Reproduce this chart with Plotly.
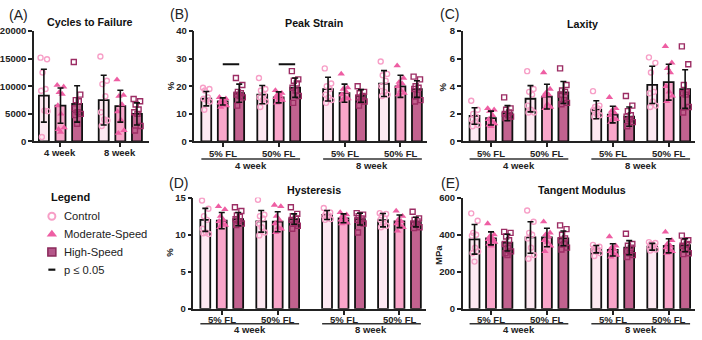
import plotly.graph_objects as go

W, H = 702, 340

# ---------------- data ----------------
series = ["Control", "Moderate-Speed", "High-Speed"]
timepoints = ["4 week", "8 week"]
loads = ["5% FL", "50% FL"]

# (A) Cycles to failure: [series][timepoint]
cyc_mean = [[8300, 7500], [6500, 6400], [6800, 5000]]
cyc_sd = [[4800, 4500], [3200, 2900], [3300, 2000]]
cyc_pts = [
    [[15200, 14900, 12500, 9500, 9200, 5600, 5500, 800],
     [15400, 11000, 10400, 8200, 5300, 4000, 3800, 2800]],
    [[10200, 9900, 8900, 8600, 6500, 5000, 2500, 2200, 1700],
     [11200, 8400, 8200, 6700, 5400, 3900, 2000, 1500]],
    [[14400, 8500, 7500, 7300, 6000, 5300, 5000, 4800, 3200],
     [7700, 7300, 6700, 5800, 5300, 5000, 2800, 2000]],
]

# Groups for B-E: 4wk-5%, 4wk-50%, 8wk-5%, 8wk-50% ; [series][group]
peak_mean = [[15.5, 17.0, 19.0, 21.0], [14.5, 16.0, 17.5, 20.0], [17.5, 19.5, 16.5, 19.0]]
peak_sd = [[2.6, 3.3, 4.3, 4.7], [1.3, 2.0, 3.3, 4.0], [3.3, 3.5, 2.3, 3.0]]
peak_pts = [
    [[19.5, 19.0, 18.5, 16.0, 15.5, 15.0, 14.5, 11.5],
     [23.0, 19.0, 18.5, 17.0, 16.0, 15.0, 14.5, 12.5],
     [26.5, 21.0, 20.0, 19.0, 17.0, 16.0, 15.0, 14.0],
     [29.0, 24.5, 24.0, 22.0, 20.0, 18.0, 17.0, 16.5]],
    [[16.0, 15.5, 15.0, 14.5, 14.0, 13.5, 13.0, 12.5],
     [18.5, 17.5, 17.0, 16.5, 16.0, 15.5, 15.0, 14.0],
     [24.5, 19.5, 19.0, 18.0, 17.0, 16.0, 15.5, 15.0],
     [27.5, 23.0, 21.5, 21.0, 20.0, 18.5, 17.5, 17.0]],
    [[23.0, 20.5, 18.0, 17.5, 17.0, 16.5, 16.0, 13.0],
     [25.5, 22.5, 22.0, 21.0, 19.5, 18.5, 16.5, 14.0],
     [20.0, 18.0, 17.5, 16.5, 16.0, 15.0, 14.5, 13.0],
     [23.5, 22.5, 20.0, 19.5, 19.0, 17.0, 15.0, 14.5]],
]

lax_mean = [[1.85, 3.1, 2.3, 4.1], [1.7, 3.25, 1.95, 4.3], [2.05, 3.55, 1.8, 3.8]]
lax_sd = [[0.6, 0.95, 0.65, 1.35], [0.5, 0.9, 0.6, 1.3], [0.55, 0.8, 0.7, 1.4]]
lax_pts = [
    [[2.95, 2.3, 2.0, 1.8, 1.6, 1.4, 1.2, 1.1],
     [5.1, 3.8, 3.6, 3.4, 2.6, 2.3, 2.1, 2.1],
     [3.65, 2.6, 2.5, 2.4, 2.3, 2.0, 1.9, 1.8],
     [6.1, 5.7, 5.0, 3.6, 3.5, 2.9, 2.6, 2.5]],
    [[2.4, 2.3, 2.2, 1.9, 1.6, 1.5, 1.3, 1.2, 1.1],
     [5.0, 3.8, 3.5, 3.4, 3.3, 2.7, 2.5, 2.4],
     [3.2, 2.4, 2.2, 2.1, 1.9, 1.7, 1.6, 1.4],
     [6.9, 5.7, 5.3, 5.0, 4.0, 3.6, 3.3, 2.9]],
    [[3.2, 2.4, 2.3, 2.1, 2.0, 1.9, 1.8, 1.7],
     [5.3, 4.1, 3.7, 3.6, 3.4, 3.0, 2.8, 2.7],
     [3.3, 2.6, 2.2, 1.9, 1.8, 1.6, 1.4, 1.1],
     [6.9, 5.6, 4.1, 3.6, 3.5, 3.4, 2.5, 2.1]],
]

hys_mean = [[12.0, 11.8, 12.65, 11.95], [11.9, 11.75, 12.2, 11.8], [12.1, 12.1, 12.1, 11.7]]
hys_sd = [[1.55, 1.45, 0.6, 0.9], [1.1, 1.35, 0.6, 0.85], [0.9, 0.7, 0.8, 0.65]]
hys_pts = [
    [[14.6, 13.5, 12.5, 12.0, 10.8, 10.3, 10.1, 10.2],
     [14.7, 12.7, 12.5, 12.2, 11.5, 11.0, 10.3, 9.9],
     [13.6, 13.0, 12.8, 12.6, 12.5, 12.3, 12.1, 12.0],
     [12.9, 12.8, 12.6, 12.2, 12.0, 11.5, 11.2, 11.0]],
    [[13.8, 13.4, 12.5, 12.0, 11.8, 11.5, 11.3, 11.0],
     [14.0, 13.8, 12.5, 12.0, 11.5, 11.0, 10.8, 10.3],
     [13.0, 12.7, 12.5, 12.2, 12.0, 11.8, 11.6, 11.5],
     [13.2, 12.5, 12.0, 11.8, 11.5, 11.3, 11.0, 10.5]],
    [[13.7, 13.2, 12.6, 12.4, 12.1, 11.8, 11.5, 11.3],
     [13.7, 12.8, 12.5, 12.2, 12.0, 11.5, 11.2, 10.8],
     [12.9, 12.7, 12.5, 12.2, 12.0, 11.8, 11.5, 10.3],
     [13.1, 12.2, 12.0, 11.8, 11.5, 11.3, 11.0, 10.9]],
]

tan_mean = [[375, 385, 322, 335], [380, 385, 318, 340], [357, 380, 330, 343]]
tan_sd = [[80, 85, 20, 18], [35, 50, 33, 38], [45, 40, 38, 35]]
tan_pts = [
    [[515, 475, 410, 400, 395, 330, 310, 300, 255],
     [530, 470, 410, 400, 380, 330, 290, 270],
     [345, 335, 330, 320, 315, 310, 300, 285],
     [360, 355, 350, 340, 330, 325, 320, 315]],
    [[460, 400, 390, 380, 375, 370, 360, 350, 340],
     [470, 410, 400, 390, 370, 360, 340, 310],
     [390, 340, 330, 320, 310, 300, 290, 280],
     [415, 370, 350, 340, 330, 320, 310, 300]],
    [[415, 410, 390, 370, 350, 330, 310, 300, 290],
     [450, 430, 400, 380, 370, 350, 330, 320],
     [405, 350, 340, 330, 310, 300, 290, 280],
     [395, 370, 360, 350, 340, 320, 300, 295]],
]

# significant comparisons in Peak Strain: (group index, series a, series b, y)
peak_sig = [(0, 1, 2, 28.0), (1, 1, 2, 28.0)]

# ---------------- style ----------------
FONT = "Liberation Sans, Arial, sans-serif"
bar_fill = ["#fde9f2", "#f9a6ca", "#c2628f"]
pt_color = ["#f79fc7", "#ee5ea3", "#9c2d64"]
pt_symbol = ["circle-open", "triangle-up", "square-open"]
jit = [-0.2, 0.19, -0.08, 0.1, -0.16, 0.03, 0.22, -0.12, 0.0]


def px(x):
    return x / W


def py(y):
    return 1 - y / H


fig = go.Figure()

starts_A = [0.0, 3.6]
starts_B = [0.0, 3.4, 7.4, 10.8]


def add_panel(k, starts, mean, sd, pts):
    xa = "x" if k == 1 else f"x{k}"
    ya = "y" if k == 1 else f"y{k}"
    for s in range(3):
        xs = [g + s for g in starts]
        fig.add_trace(go.Bar(
            x=xs, y=mean[s], width=0.6, xaxis=xa, yaxis=ya,
            marker=dict(color=bar_fill[s], line=dict(color="#111", width=1.8)),
            showlegend=False, hoverinfo="skip"))
    for s in range(3):
        px_, py_ = [], []
        for gi, g in enumerate(starts):
            for j, v in enumerate(pts[s][gi]):
                px_.append(g + s + jit[j % len(jit)])
                py_.append(v)
        if pt_symbol[s] == "triangle-up":
            mk = dict(symbol="triangle-up", size=6.5, color=pt_color[s])
        else:
            mk = dict(symbol=pt_symbol[s], size=5, color=pt_color[s],
                      line=dict(width=1.4, color=pt_color[s]))
        fig.add_trace(go.Scatter(
            x=px_, y=py_, mode="markers", marker=mk, xaxis=xa, yaxis=ya,
            showlegend=False, hoverinfo="skip"))
    for s in range(3):
        xs = [g + s for g in starts]
        fig.add_trace(go.Scatter(
            x=xs, y=mean[s], mode="markers", xaxis=xa, yaxis=ya,
            marker=dict(size=1, color="rgba(0,0,0,0)"),
            error_y=dict(type="data", array=sd[s], color="#111",
                         thickness=1.6, width=3),
            showlegend=False, hoverinfo="skip"))


add_panel(1, starts_A, cyc_mean, cyc_sd, cyc_pts)
add_panel(2, starts_B, peak_mean, peak_sd, peak_pts)
add_panel(3, starts_B, lax_mean, lax_sd, lax_pts)
add_panel(4, starts_B, hys_mean, hys_sd, hys_pts)
add_panel(5, starts_B, tan_mean, tan_sd, tan_pts)

tickfont = dict(family=FONT, size=9.5, color="#222", weight="bold")
axis_common = dict(showline=True, linecolor="#222", linewidth=1.5,
                   ticks="outside", ticklen=4, tickwidth=1.5, tickcolor="#222",
                   showgrid=False, zeroline=False, tickfont=tickfont)

top_row = [py(140), py(26)]
bot_row = [py(313), py(198)]
dom = {
    1: ([px(32), px(147)], top_row),
    2: ([px(193), px(426)], top_row),
    3: ([px(462), px(695)], top_row),
    4: ([px(192), px(425)], bot_row),
    5: ([px(462), px(695)], bot_row),
}
yinfo = {
    1: ([0, 20000], 5000),
    2: ([0, 40], 10),
    3: ([0, 8], 2),
    4: ([0, 15], 5),
    5: ([0, 600], 200),
}
centers_A = [g + 1 for g in starts_A]
centers_B = [g + 1 for g in starts_B]
xlab_y = {1: 151.5, 2: 152, 3: 152, 4: 323.5, 5: 323.5}

layout = {}
annotations = []
shapes = []
for k in range(1, 6):
    xd, yd = dom[k]
    xn = "xaxis" if k == 1 else f"xaxis{k}"
    yn = "yaxis" if k == 1 else f"yaxis{k}"
    anchor_x = "x" if k == 1 else f"x{k}"
    anchor_y = "y" if k == 1 else f"y{k}"
    if k == 1:
        xr = [-0.6, 6.3]
        tv, tt = centers_A, timepoints
    else:
        xr = [-0.72, 13.4]
        tv, tt = centers_B, loads * 2
    layout[xn] = dict(domain=xd, range=xr, tickvals=tv, showticklabels=False,
                      anchor=anchor_y, **axis_common)
    for v, t in zip(tv, tt):
        annotations.append(dict(text=t, x=v, y=py(xlab_y[k]), xref=anchor_x, yref="paper",
                                xanchor="center", yanchor="middle", showarrow=False,
                                font=tickfont))
    yr, dt = yinfo[k]
    layout[yn] = dict(domain=yd, range=yr, dtick=dt, tick0=0, tickformat="d",
                      anchor=anchor_x, **axis_common)

# legend axis (pixel coordinates)
layout["xaxis6"] = dict(domain=[0, 1], range=[0, W], visible=False, anchor="y6")
layout["yaxis6"] = dict(domain=[0, 1], range=[H, 0], visible=False, anchor="x6")

fig.update_layout(**layout)

# panel letters
for lab, x, y in [("(A)", 5, 9), ("(B)", 166, 8), ("(C)", 437, 8.5),
                  ("(D)", 165, 183), ("(E)", 438, 183)]:
    annotations.append(dict(text=lab, x=px(x), y=py(y), xref="paper", yref="paper",
                            xanchor="left", yanchor="middle", showarrow=False,
                            font=dict(family=FONT, size=14, color="#222")))
# titles
for t, x, y in [("Cycles to Failure", 88, 17), ("Peak Strain", 313, 17.5),
                ("Laxity", 582, 18.5), ("Hysteresis", 313, 190),
                ("Tangent Modulus", 582, 190)]:
    annotations.append(dict(text=t, x=px(x), y=py(y), xref="paper", yref="paper",
                            xanchor="center", yanchor="middle", showarrow=False,
                            font=dict(family=FONT, size=10.7, color="#111", weight="bold")))
# y titles
for t, x, y in [("%", 168.5, 83), ("%", 441.5, 84), ("%", 168.5, 255), ("MPa", 437.5, 257)]:
    annotations.append(dict(text=t, x=px(x), y=py(y), xref="paper", yref="paper",
                            xanchor="center", yanchor="middle", showarrow=False,
                            textangle=-90,
                            font=dict(family=FONT, size=9.5, color="#222", weight="bold")))

# week grouping lines under B-E
for k, yl, ylab in [(2, 158, 164.5), (3, 158, 164.5), (4, 328.5, 334.5), (5, 328.5, 334.5)]:
    xa = f"x{k}"
    for w, pair in enumerate([(0, 1), (2, 3)]):
        x0 = starts_B[pair[0]] - 0.3
        x1 = starts_B[pair[1]] + 2 + 0.3
        shapes.append(dict(type="line", xref=xa, yref="paper", x0=x0, x1=x1,
                           y0=py(yl), y1=py(yl), line=dict(color="#333", width=1.5)))
        annotations.append(dict(text=timepoints[w], x=(x0 + x1) / 2, y=py(ylab),
                                xref=xa, yref="paper", xanchor="center", yanchor="middle",
                                showarrow=False, font=tickfont))

# significance lines in Peak Strain
for gi, a, b, yv in peak_sig:
    shapes.append(dict(type="line", xref="x2", yref="y2",
                       x0=starts_B[gi] + a, x1=starts_B[gi] + b, y0=yv, y1=yv,
                       line=dict(color="#111", width=2)))

# legend
leg_items = ["Control", "Moderate-Speed", "High-Speed", "p \u2264 0.05"]
leg_y = [217.3, 235.8, 254.2, 272.5]
annotations.append(dict(text="Legend", x=px(47.5), y=py(197), xref="paper", yref="paper",
                        xanchor="left", yanchor="middle", showarrow=False,
                        font=dict(family=FONT, size=11, color="#111", weight="bold")))
for t, y in zip(leg_items, leg_y):
    annotations.append(dict(text=t, x=px(60), y=py(y), xref="paper", yref="paper",
                            xanchor="left", yanchor="middle", showarrow=False,
                            font=dict(family=FONT, size=11.2, color="#222")))
leg_markers = [
    dict(symbol="circle-open", size=7, color=pt_color[0], line=dict(width=2, color=pt_color[0])),
    dict(symbol="triangle-up", size=9, color=pt_color[1]),
    dict(symbol="square", size=8, color="#b5578a", line=dict(width=1.5, color="#8a2a5b")),
    dict(symbol="line-ew", size=5, color="#111", line=dict(width=2.2, color="#111")),
]
for mk, y in zip(leg_markers, leg_y):
    fig.add_trace(go.Scatter(x=[50], y=[y], mode="markers", marker=mk,
                             xaxis="x6", yaxis="y6", showlegend=False, hoverinfo="skip"))

fig.update_layout(
    width=W, height=H, autosize=False,
    margin=dict(l=0, r=0, t=0, b=0),
    paper_bgcolor="white", plot_bgcolor="rgba(0,0,0,0)",
    barmode="overlay", showlegend=False,
    annotations=annotations, shapes=shapes,
    font=dict(family=FONT, color="#222"),
)

fig.write_html("out.html",
               config={"displayModeBar": False},
               post_script="document.body.style.margin='0';document.body.style.padding='0';")
